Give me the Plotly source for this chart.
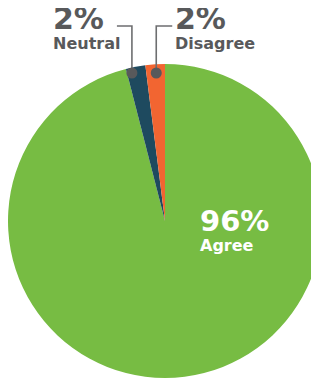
import math
import plotly.graph_objects as go

labels = ["Agree", "Neutral", "Disagree"]
values = [96, 2, 2]
colors = ["#77BC43", "#1E4A5F", "#F26531"]

OFF = 8  # page body margin
W, H = 315, 371
R = 157.0
cx, cy = OFF + R, 221.0

def px(x):
    return (x - OFF) / W

def py(y):
    return 1 - (y - OFF) / H

def clamp(v):
    return min(1.0, max(0.0, v))

fig = go.Figure(go.Pie(
    labels=labels, values=values, sort=False, direction="clockwise",
    rotation=0, marker=dict(colors=colors, line=dict(width=0)),
    textinfo="none", hoverinfo="label+percent", showlegend=False,
    domain=dict(x=[clamp(px(cx - R)), clamp(px(cx + R))],
                y=[clamp(py(cy + R)), clamp(py(cy - R))]),
))

gray = "#58595B"
linegray = "#6D6E70"
font = "'DejaVu Sans', sans-serif"
total = sum(values)
shapes = []
annotations = []
# fraction through each small slice where its marker dot sits
dot_frac = {"Neutral": 0.75, "Disagree": 0.47}
cum = 0
for lab, v in zip(labels, values):
    start = cum
    cum += v
    if lab not in dot_frac:
        continue
    # angle measured counterclockwise from 12 o'clock (slices end at the top)
    ang = (total - (start + v * (1 - dot_frac[lab]))) / total * 2 * math.pi
    dy = cy - 148
    dx = cx - (cy - dy) * math.tan(ang)
    dr = 5.5
    ly = 26
    hx = dx - 15 if lab == "Neutral" else dx + 16
    shapes.append(dict(type="path", xref="paper", yref="paper",
                       path=f"M {px(dx)} {py(dy)} L {px(dx)} {py(ly)} L {px(hx)} {py(ly)}",
                       line=dict(color=linegray, width=1.6)))
    shapes.append(dict(type="circle", xref="paper", yref="paper",
                       x0=px(dx - dr), x1=px(dx + dr), y0=py(dy + dr), y1=py(dy - dr),
                       fillcolor=gray, line=dict(width=0)))
    tx = 51 if lab == "Neutral" else 173
    annotations.append(dict(x=px(tx), y=py(18), xref="paper", yref="paper",
                            text=f"<b>{v}%</b>", showarrow=False, xanchor="left", yanchor="middle",
                            font=dict(family=font, size=30, color=gray)))
    annotations.append(dict(x=px(tx), y=py(43.5), xref="paper", yref="paper",
                            text=f"<b>{lab}</b>", showarrow=False, xanchor="left", yanchor="middle",
                            font=dict(family=font, size=16, color=gray)))

annotations.append(dict(x=px(198), y=py(221), xref="paper", yref="paper",
                        text=f"<b>{values[0]}%</b>", showarrow=False, xanchor="left", yanchor="middle",
                        font=dict(family=font, size=29, color="white")))
annotations.append(dict(x=px(198), y=py(245.5), xref="paper", yref="paper",
                        text=f"<b>{labels[0]}</b>", showarrow=False, xanchor="left", yanchor="middle",
                        font=dict(family=font, size=16, color="white")))

fig.update_layout(width=W, height=H, margin=dict(l=0, r=0, t=0, b=0),
                  paper_bgcolor="white", plot_bgcolor="white",
                  shapes=shapes, annotations=annotations)
fig.write_html("out.html")
